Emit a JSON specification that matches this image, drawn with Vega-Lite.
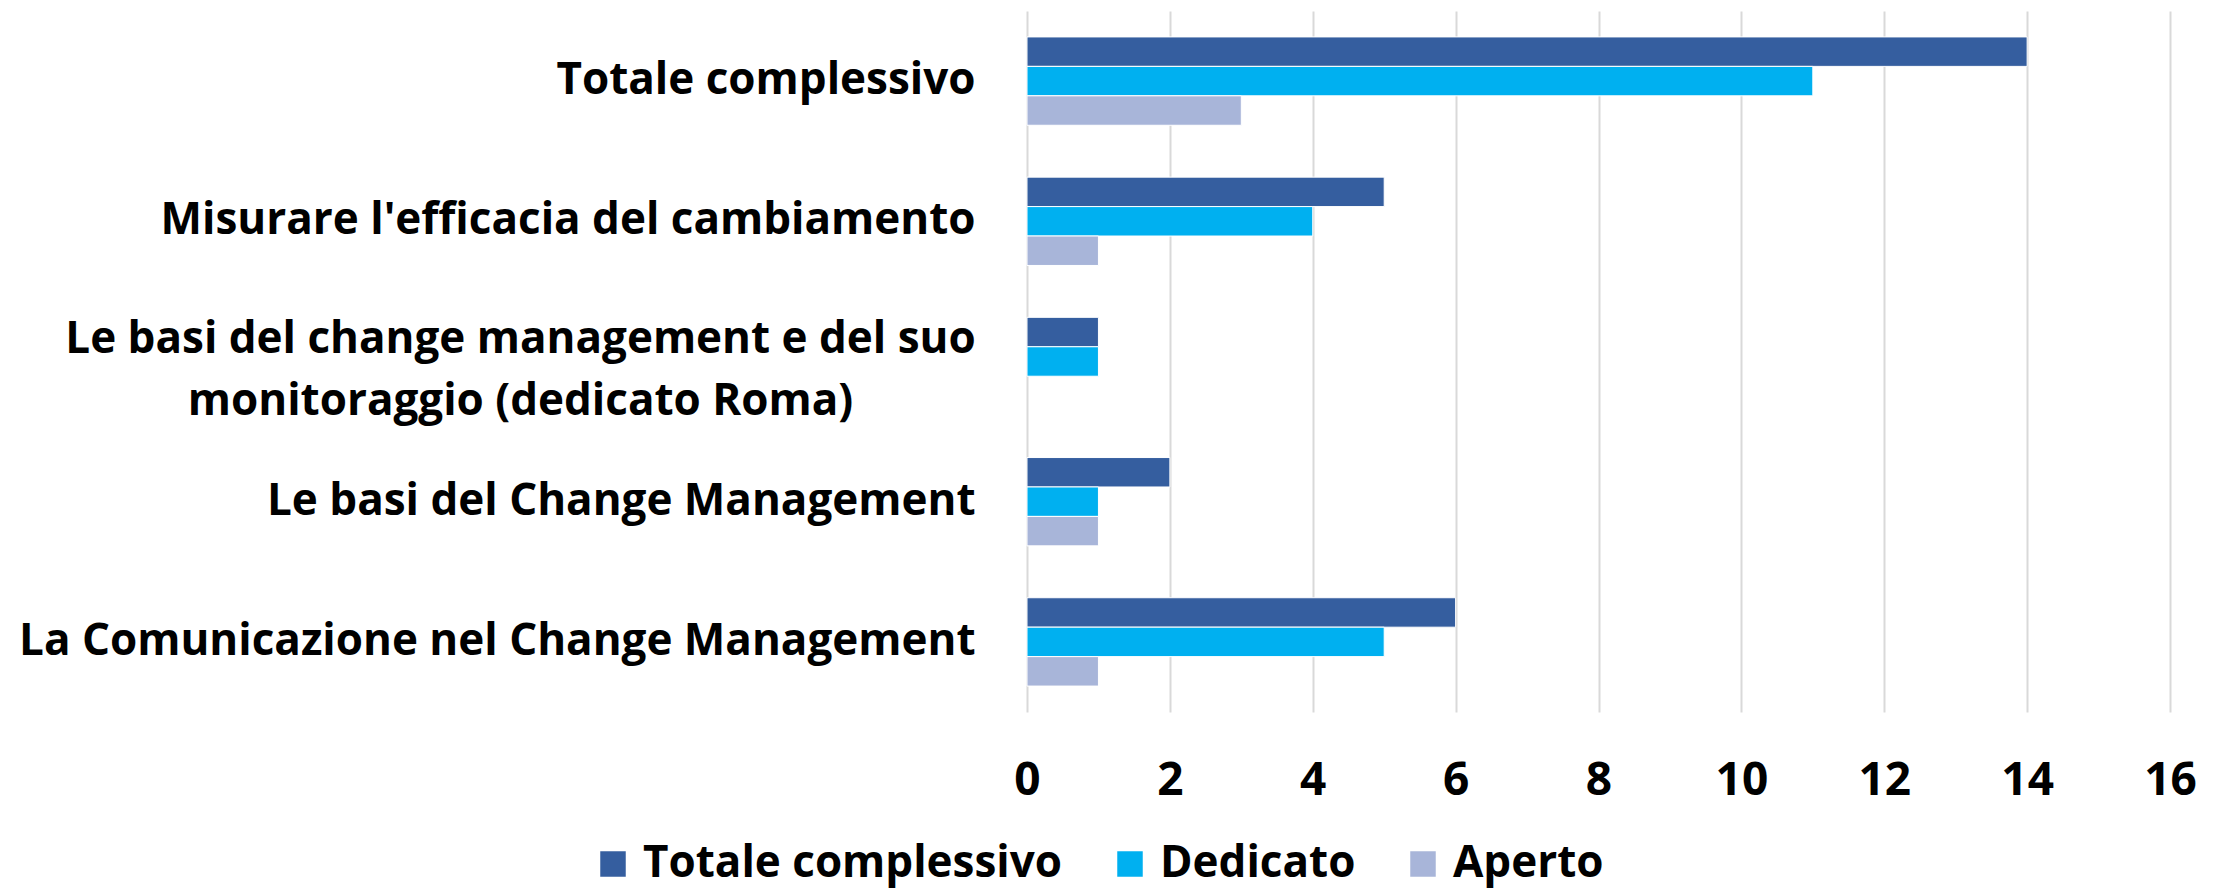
{
  "$schema": "https://vega.github.io/schema/vega-lite/v6.json",
  "width": 1143,
  "height": 701,
  "autosize": {"type": "none"},
  "padding": {"left": 1027, "top": 11, "right": 45, "bottom": 181},
  "background": "white",
  "config": {
    "view": {"stroke": null},
    "font": "Open Sans"
  },
  "data": {
    "values": [
      {"corso": "Totale complessivo", "tipo": "Totale complessivo", "n": 14},
      {"corso": "Totale complessivo", "tipo": "Dedicato", "n": 11},
      {"corso": "Totale complessivo", "tipo": "Aperto", "n": 3},
      {"corso": "Misurare l'efficacia del cambiamento", "tipo": "Totale complessivo", "n": 5},
      {"corso": "Misurare l'efficacia del cambiamento", "tipo": "Dedicato", "n": 4},
      {"corso": "Misurare l'efficacia del cambiamento", "tipo": "Aperto", "n": 1},
      {"corso": "Le basi del change management e del suo monitoraggio (dedicato Roma)", "tipo": "Totale complessivo", "n": 1},
      {"corso": "Le basi del change management e del suo monitoraggio (dedicato Roma)", "tipo": "Dedicato", "n": 1},
      {"corso": "Le basi del Change Management", "tipo": "Totale complessivo", "n": 2},
      {"corso": "Le basi del Change Management", "tipo": "Dedicato", "n": 1},
      {"corso": "Le basi del Change Management", "tipo": "Aperto", "n": 1},
      {"corso": "La Comunicazione nel Change Management", "tipo": "Totale complessivo", "n": 6},
      {"corso": "La Comunicazione nel Change Management", "tipo": "Dedicato", "n": 5},
      {"corso": "La Comunicazione nel Change Management", "tipo": "Aperto", "n": 1}
    ]
  },
  "mark": {"type": "bar", "stroke": "white", "strokeWidth": 1},
  "encoding": {
    "y": {
      "field": "corso",
      "type": "nominal",
      "sort": [
        "Totale complessivo",
        "Misurare l'efficacia del cambiamento",
        "Le basi del change management e del suo monitoraggio (dedicato Roma)",
        "Le basi del Change Management",
        "La Comunicazione nel Change Management"
      ],
      "scale": {"paddingInner": 0.37, "paddingOuter": 0.185},
      "axis": {
        "title": null,
        "domain": false,
        "ticks": false,
        "labelFont": "Open Sans",
        "labelFontWeight": "bold",
        "labelFontSize": 44,
        "labelColor": "black",
        "labelLimit": 1100,
        "labelLineHeight": 62,
        "labelPadding": {"condition": {"test": "indexof(datum.value, 'monitoraggio') >= 0", "value": 507}, "value": 52},
        "labelAlign": {"condition": {"test": "indexof(datum.value, 'monitoraggio') >= 0", "value": "center"}, "value": "right"},
        "labelOffset": {"condition": {"test": "indexof(datum.value, 'monitoraggio') >= 0", "value": -22}, "value": 0},
        "labelExpr": "indexof(datum.value, 'monitoraggio') >= 0 ? ['Le basi del change management e del suo', 'monitoraggio (dedicato Roma)'] : datum.value"
      }
    },
    "yOffset": {
      "field": "tipo",
      "type": "nominal",
      "sort": ["Totale complessivo", "Dedicato", "Aperto"]
    },
    "x": {
      "field": "n",
      "type": "quantitative",
      "scale": {"domain": [0, 16]},
      "axis": {
        "title": null,
        "domain": false,
        "ticks": false,
        "values": [0, 2, 4, 6, 8, 10, 12, 14, 16],
        "grid": true,
        "gridColor": "#D9D9D9",
        "gridWidth": 2,
        "labelFont": "Open Sans",
        "labelFontWeight": "bold",
        "labelFontSize": 46,
        "labelColor": "black",
        "labelPadding": 46,
        "labelFlush": false
      }
    },
    "color": {
      "field": "tipo",
      "type": "nominal",
      "sort": ["Totale complessivo", "Dedicato", "Aperto"],
      "scale": {
        "domain": ["Totale complessivo", "Dedicato", "Aperto"],
        "range": ["#355E9F", "#00B0F0", "#A8B5D9"]
      },
      "legend": {
        "title": null,
        "orient": "none",
        "direction": "horizontal",
        "legendX": -436,
        "legendY": 831,
        "symbolType": "square",
        "symbolSize": 650,
        "symbolStrokeWidth": 0,
        "labelFont": "Open Sans",
        "labelFontWeight": "bold",
        "labelFontSize": 44,
        "labelColor": "black",
        "labelLimit": 600,
        "labelOffset": 8,
        "columnPadding": 45
      }
    }
  }
}
